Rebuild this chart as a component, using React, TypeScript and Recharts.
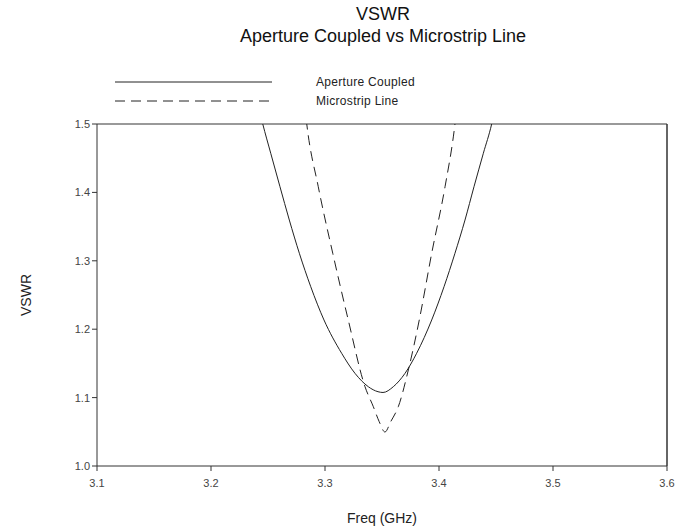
import { LineChart, Line, XAxis, YAxis, ReferenceLine } from "recharts"

const apertureFreq = [3.241, 3.2454, 3.2524, 3.2605, 3.2687, 3.2775, 3.2875, 3.2991, 3.3146, 3.3263, 3.338, 3.3465, 3.3509, 3.3599, 3.3702, 3.3804, 3.3936, 3.4044, 3.414, 3.4228, 3.4307, 3.4389, 3.4462, 3.45]
const apertureVswr = [1.53, 1.5, 1.4572, 1.4083, 1.3596, 1.311, 1.2621, 1.2135, 1.1648, 1.1355, 1.1159, 1.1086, 1.1075, 1.1159, 1.1355, 1.1648, 1.2135, 1.2621, 1.311, 1.3596, 1.4083, 1.4572, 1.5, 1.53]

const microFreq = [3.282, 3.284, 3.2941, 3.3068, 3.3204, 3.3351, 3.3424, 3.3475, 3.3526, 3.3577, 3.3643, 3.3731, 3.3827, 3.3936, 3.4053, 3.414, 3.416]
const microVswr = [1.53, 1.5, 1.4083, 1.311, 1.2135, 1.1159, 1.0867, 1.065, 1.0497, 1.065, 1.0867, 1.1404, 1.2135, 1.311, 1.4083, 1.5, 1.53]

const xTicks = [3.1, 3.2, 3.3, 3.4, 3.5, 3.6]
const yTicks = [1.0, 1.1, 1.2, 1.3, 1.4, 1.5]

const aperture = apertureFreq.map((f, i) => ({ freq: f, vswr: apertureVswr[i] }))
const micro = microFreq.map((f, i) => ({ freq: f, vswr: microVswr[i] }))

const font = "'Liberation Sans', Arial, sans-serif"
const tickStyle = { fontSize: 11, fill: "#444", fontFamily: font }

export default function App() {
  return (
    <div style={{ position: "absolute", left: 0, top: 0, width: 678, height: 530, background: "#fff", fontFamily: font }}>
      <div style={{ position: "absolute", left: 0, width: 678, top: 3, textAlign: "center", paddingLeft: 88, boxSizing: "border-box", fontSize: 18, color: "#111", lineHeight: "22px" }}>
        VSWR
        <br />
        Aperture Coupled vs Microstrip Line
      </div>
      <svg style={{ position: "absolute", left: 0, top: 0 }} width={678} height={130}>
        <line x1={115} x2={272} y1={82} y2={82} stroke="#222" strokeWidth={1} />
        <line x1={115} x2={272} y1={101} y2={101} stroke="#222" strokeWidth={1} strokeDasharray="10 6" />
        <text x={316} y={86} fontSize={12} fill="#222" fontFamily={font} letterSpacing={0.3}>Aperture Coupled</text>
        <text x={316} y={105} fontSize={12} fill="#222" fontFamily={font} letterSpacing={0.3}>Microstrip Line</text>
      </svg>
      <div style={{ position: "absolute", left: 0, top: 0 }}>
        <LineChart width={678} height={530} margin={{ top: 124, right: 11, left: 37, bottom: 34 }}>
          <XAxis
            type="number"
            dataKey="freq"
            domain={[3.1, 3.6]}
            ticks={xTicks}
            tickFormatter={(v: number) => v.toFixed(1)}
            allowDataOverflow
            height={30}
            stroke="#333"
            tickSize={5}
            tickMargin={8}
            tick={tickStyle}
            label={{ value: "Freq (GHz)", position: "insideBottom", offset: -27, style: { fontSize: 14, fill: "#222", fontFamily: font } }}
          />
          <YAxis
            type="number"
            dataKey="vswr"
            domain={[1.0, 1.5]}
            ticks={yTicks}
            tickFormatter={(v: number) => v.toFixed(1)}
            allowDataOverflow
            width={60}
            stroke="#333"
            tickSize={5}
            tick={tickStyle}
            label={{ value: "VSWR", angle: -90, position: "insideLeft", offset: -11, style: { fontSize: 14, fill: "#222", fontFamily: font, textAnchor: "middle" } }}
          />
          <ReferenceLine y={1.5} stroke="#777" strokeWidth={1.5} />
          <ReferenceLine x={3.6} stroke="#333" strokeWidth={1.5} />
          <Line data={aperture} dataKey="vswr" type="monotone" stroke="#222" strokeWidth={1} dot={false} isAnimationActive={false} />
          <Line data={micro} dataKey="vswr" type="monotone" stroke="#222" strokeWidth={1} strokeDasharray="10 6" dot={false} isAnimationActive={false} />
        </LineChart>
      </div>
    </div>
  )
}
